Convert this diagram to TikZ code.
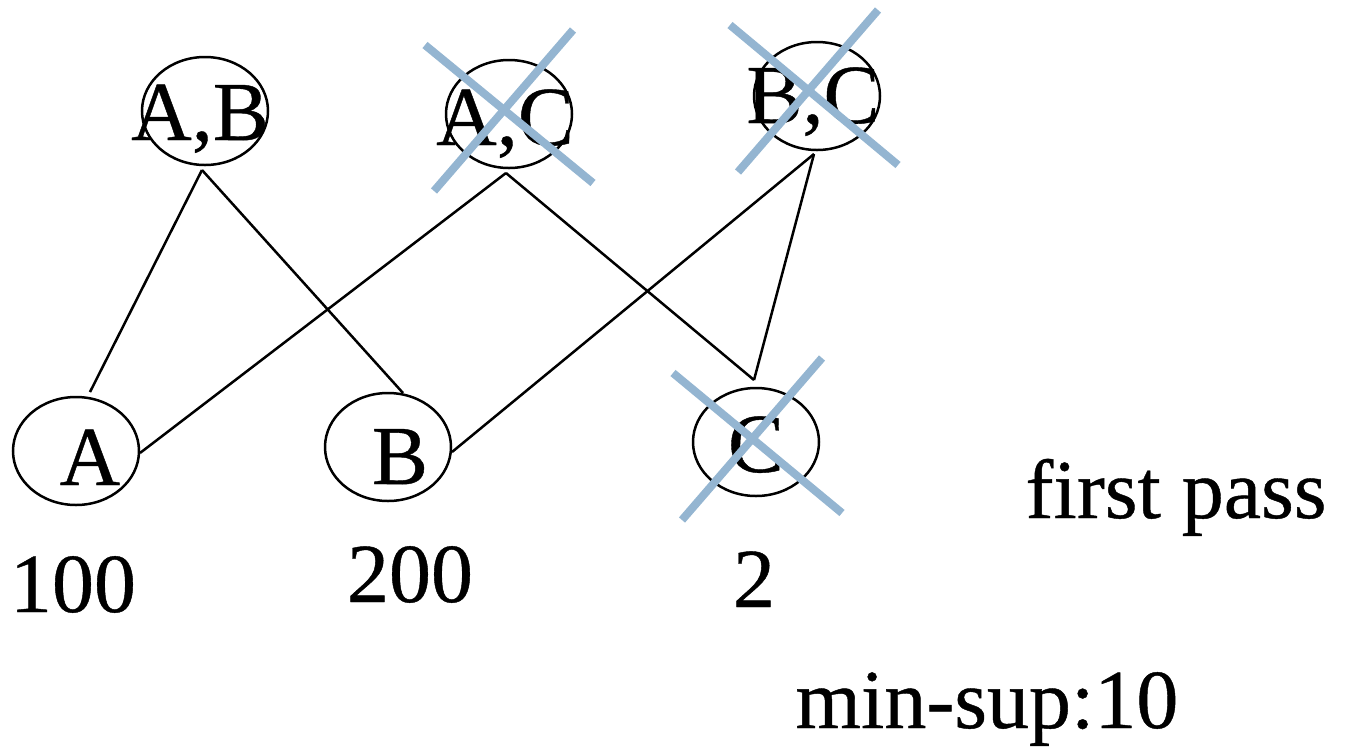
\documentclass[tikz,border=0pt]{standalone}
\usepackage{fontspec}
\setmainfont{Liberation Serif}[FakeBold=0.5]
\usetikzlibrary{shapes.geometric}
\definecolor{crosscol}{RGB}{148,181,209}
\begin{document}
\begin{tikzpicture}[x=1pt,y=-1pt,
  itemset/.style={draw=black,line width=2.5pt,ellipse,inner sep=0pt,minimum width=126pt,minimum height=108pt},
  lbl/.style={inner sep=0pt,anchor=base,font=\fontsize{84}{100}\selectfont},
  edge/.style={draw=black,line width=2.5pt},
  strike/.style={draw=crosscol,line width=8pt}]
\useasboundingbox (0,0) rectangle (1345,748);
% ellipses
\node[itemset] (AB) at (205,111) {};
\node[itemset] (AC) at (509,114) {};
\node[itemset] (BC) at (817,96) {};
\node[itemset] (A) at (76,451) {};
\node[itemset] (B) at (388,447) {};
\node[itemset] (C) at (756,442) {};
% labels
\node[lbl] (ABt) at (200,140) {A,B};
\node[lbl] (ACt) at (505,145) {A,C};
\node[lbl] (BCt) at (813,123) {B,C};
\node[lbl] (At) at (90,485) {A};
\node[lbl] (Bt) at (400,484) {B};
\node[lbl] (Ct) at (756,472) {C};
% connector ends
\coordinate (AB-b) at (202,170);
\coordinate (AC-b) at (506,173);
\coordinate (BC-b) at (814,154);
\coordinate (A-t) at (90,392);
\coordinate (A-r) at (140,453);
\coordinate (B-t) at (403,393);
\coordinate (B-r) at (452,452);
\coordinate (C-t) at (754,380);
% connectors
\draw[edge] (AB-b) -- (A-t);
\draw[edge] (AB-b) -- (B-t);
\draw[edge] (AC-b) -- (A-r);
\draw[edge] (AC-b) -- (C-t);
\draw[edge] (BC-b) -- (B-r);
\draw[edge] (BC-b) -- (C-t);
% crosses
\draw[strike] (425,45) -- (593,183);
\draw[strike] (573,30) -- (434,191);
\draw[strike] (730,25) -- (898,165);
\draw[strike] (878,10) -- (738,172);
\draw[strike] (673,373) -- (842,513);
\draw[strike] (822,358) -- (682,520);
% counts and notes
\node[lbl] (n100) at (73,612) {100};
\node[lbl] (n200) at (410,602) {200};
\node[lbl] (n2) at (754,607) {2};
\node[lbl] (fp) at (1176,518) {first pass};
\node[lbl] (ms) at (987,728) {min-sup:10};
\end{tikzpicture}
\end{document}
